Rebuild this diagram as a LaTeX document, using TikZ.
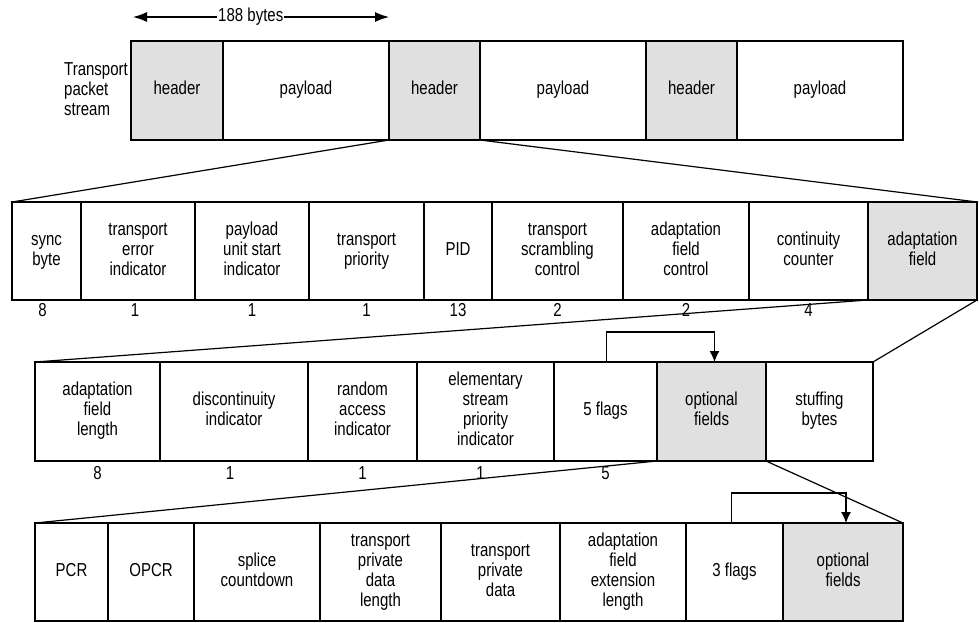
\documentclass[tikz,border=0pt]{standalone}
\usepackage{fontspec}
\setmainfont{Liberation Sans}
\usetikzlibrary{arrows.meta}
\newcommand\Tc[1]{\scalebox{1}[1.25]{\begin{tabular}{@{}c@{}}#1\end{tabular}}}
\newcommand\Tl[1]{\scalebox{1}[1.25]{\begin{tabular}{@{}l@{}}#1\end{tabular}}}
\tikzset{
  cell/.style={draw, line width=1.2pt, inner sep=0pt, outer sep=0pt, anchor=north west, font=\fontsize{15}{16}\selectfont},
  shaded/.style={fill=black!12},
  num/.style={font=\fontsize{15}{16}\selectfont, inner sep=0pt},
  link/.style={line width=1.2pt},
  arr/.style={line width=1.2pt, -{Latex[length=11pt,width=10pt]}},
  dimarr/.style={line width=1.2pt, {Latex[length=14pt,width=10pt]}-{Latex[length=14pt,width=10pt]}},
}
\begin{document}
\begin{tikzpicture}[x=1pt,y=-1pt]
\useasboundingbox (0,0) rectangle (979,622);
% 188 bytes
\coordinate (a1) at (133,17);
\coordinate (a2) at (389,17);
\draw[dimarr] (a1) -- (a2) node[pos=0.46, fill=white, inner sep=1pt, font=\fontsize{15}{16}\selectfont] (bytes) {\Tc{188 bytes}};
% Row 1
\node[font=\fontsize{15}{16}\selectfont, anchor=east, inner sep=0pt] (tps) at (128,91) {\Tl{Transport\\packet\\stream}};
\node[cell, shaded, minimum width=92pt, minimum height=99pt] (h1) at (131,41) {\Tc{header}};
\node[cell, minimum width=166pt, minimum height=99pt] (p1) at (223,41) {\Tc{payload}};
\node[cell, shaded, minimum width=91pt, minimum height=99pt] (h2) at (389,41) {\Tc{header}};
\node[cell, minimum width=166pt, minimum height=99pt] (p2) at (480,41) {\Tc{payload}};
\node[cell, shaded, minimum width=91pt, minimum height=99pt] (h3) at (646,41) {\Tc{header}};
\node[cell, minimum width=166pt, minimum height=99pt] (p3) at (737,41) {\Tc{payload}};
% Row 2
\node[cell, minimum width=69pt, minimum height=98pt] (sync) at (12,202) {\Tc{sync\\byte}};
\node[cell, minimum width=114pt, minimum height=98pt] (tei) at (81,202) {\Tc{transport\\error\\indicator}};
\node[cell, minimum width=114pt, minimum height=98pt] (pusi) at (195,202) {\Tc{payload\\unit start\\indicator}};
\node[cell, minimum width=115pt, minimum height=98pt] (tp) at (309,202) {\Tc{transport\\priority}};
\node[cell, minimum width=68pt, minimum height=98pt] (pid) at (424,202) {\Tc{PID}};
\node[cell, minimum width=131pt, minimum height=98pt] (tsc) at (492,202) {\Tc{transport\\scrambling\\control}};
\node[cell, minimum width=126pt, minimum height=98pt] (afc) at (623,202) {\Tc{adaptation\\field\\control}};
\node[cell, minimum width=119pt, minimum height=98pt] (cc) at (749,202) {\Tc{continuity\\counter}};
\node[cell, shaded, minimum width=109pt, minimum height=98pt] (af) at (868,202) {\Tc{adaptation\\field}};
\node[num] (n21) at ([xshift=-4pt,yshift=-12pt]sync.south) {\Tc{8}};
\node[num] (n22) at ([xshift=-3pt,yshift=-12pt]tei.south) {\Tc{1}};
\node[num] (n23) at ([yshift=-12pt]pusi.south) {\Tc{1}};
\node[num] (n24) at ([yshift=-12pt]tp.south) {\Tc{1}};
\node[num] (n25) at ([yshift=-12pt]pid.south) {\Tc{13}};
\node[num] (n26) at ([yshift=-12pt]tsc.south) {\Tc{2}};
\node[num] (n27) at ([yshift=-12pt]afc.south) {\Tc{2}};
\node[num] (n28) at ([yshift=-12pt]cc.south) {\Tc{4}};
% Row 3
\node[cell, minimum width=125pt, minimum height=99pt] (afl) at (35,362) {\Tc{adaptation\\field\\length}};
\node[cell, minimum width=148pt, minimum height=99pt] (di) at (160,362) {\Tc{discontinuity\\indicator}};
\node[cell, minimum width=109pt, minimum height=99pt] (rai) at (308,362) {\Tc{random\\access\\indicator}};
\node[cell, minimum width=137pt, minimum height=99pt] (espi) at (417,362) {\Tc{elementary\\stream\\priority\\indicator}};
\node[cell, minimum width=103pt, minimum height=99pt] (fl5) at (554,362) {\Tc{5 flags}};
\node[cell, shaded, minimum width=109pt, minimum height=99pt] (opt1) at (657,362) {\Tc{optional\\fields}};
\node[cell, minimum width=107pt, minimum height=99pt] (stuff) at (766,362) {\Tc{stuffing\\bytes}};
\node[num] (n31) at ([yshift=-14pt]afl.south) {\Tc{8}};
\node[num] (n32) at ([xshift=-4pt,yshift=-14pt]di.south) {\Tc{1}};
\node[num] (n33) at ([yshift=-14pt]rai.south) {\Tc{1}};
\node[num] (n34) at ([xshift=-5pt,yshift=-14pt]espi.south) {\Tc{1}};
\node[num] (n35) at ([yshift=-14pt]fl5.south) {\Tc{5}};
% Row 4
\node[cell, minimum width=73pt, minimum height=98pt] (pcr) at (35,523) {\Tc{PCR}};
\node[cell, minimum width=86pt, minimum height=98pt] (opcr) at (108,523) {\Tc{OPCR}};
\node[cell, minimum width=126pt, minimum height=98pt] (splice) at (194,523) {\Tc{splice\\countdown}};
\node[cell, minimum width=121pt, minimum height=98pt] (tpdl) at (320,523) {\Tc{transport\\private\\data\\length}};
\node[cell, minimum width=119pt, minimum height=98pt] (tpd) at (441,523) {\Tc{transport\\private\\data}};
\node[cell, minimum width=126pt, minimum height=98pt] (afel) at (560,523) {\Tc{adaptation\\field\\extension\\length}};
\node[cell, minimum width=97pt, minimum height=98pt] (fl3) at (686,523) {\Tc{3 flags}};
\node[cell, shaded, minimum width=120pt, minimum height=98pt] (opt2) at (783,523) {\Tc{optional\\fields}};
% expansion lines
\draw[link] (h2.south west) -- (sync.north west);
\draw[link] (h2.south east) -- (af.north east);
\draw[link] (af.south west) -- (afl.north west);
\draw[link] (af.south east) -- (stuff.north east);
\draw[link] (opt1.south west) -- (pcr.north west);
\draw[link] (opt1.south east) -- (opt2.north east);
% flag arrows
\draw[arr] ([xshift=1pt]fl5.north) -- ++(0,-30) -| ([xshift=3pt]opt1.north);
\draw[arr] ([xshift=-3pt]fl3.north) -- ++(0,-30) -| ([xshift=3pt]opt2.north);
\end{tikzpicture}
\end{document}
